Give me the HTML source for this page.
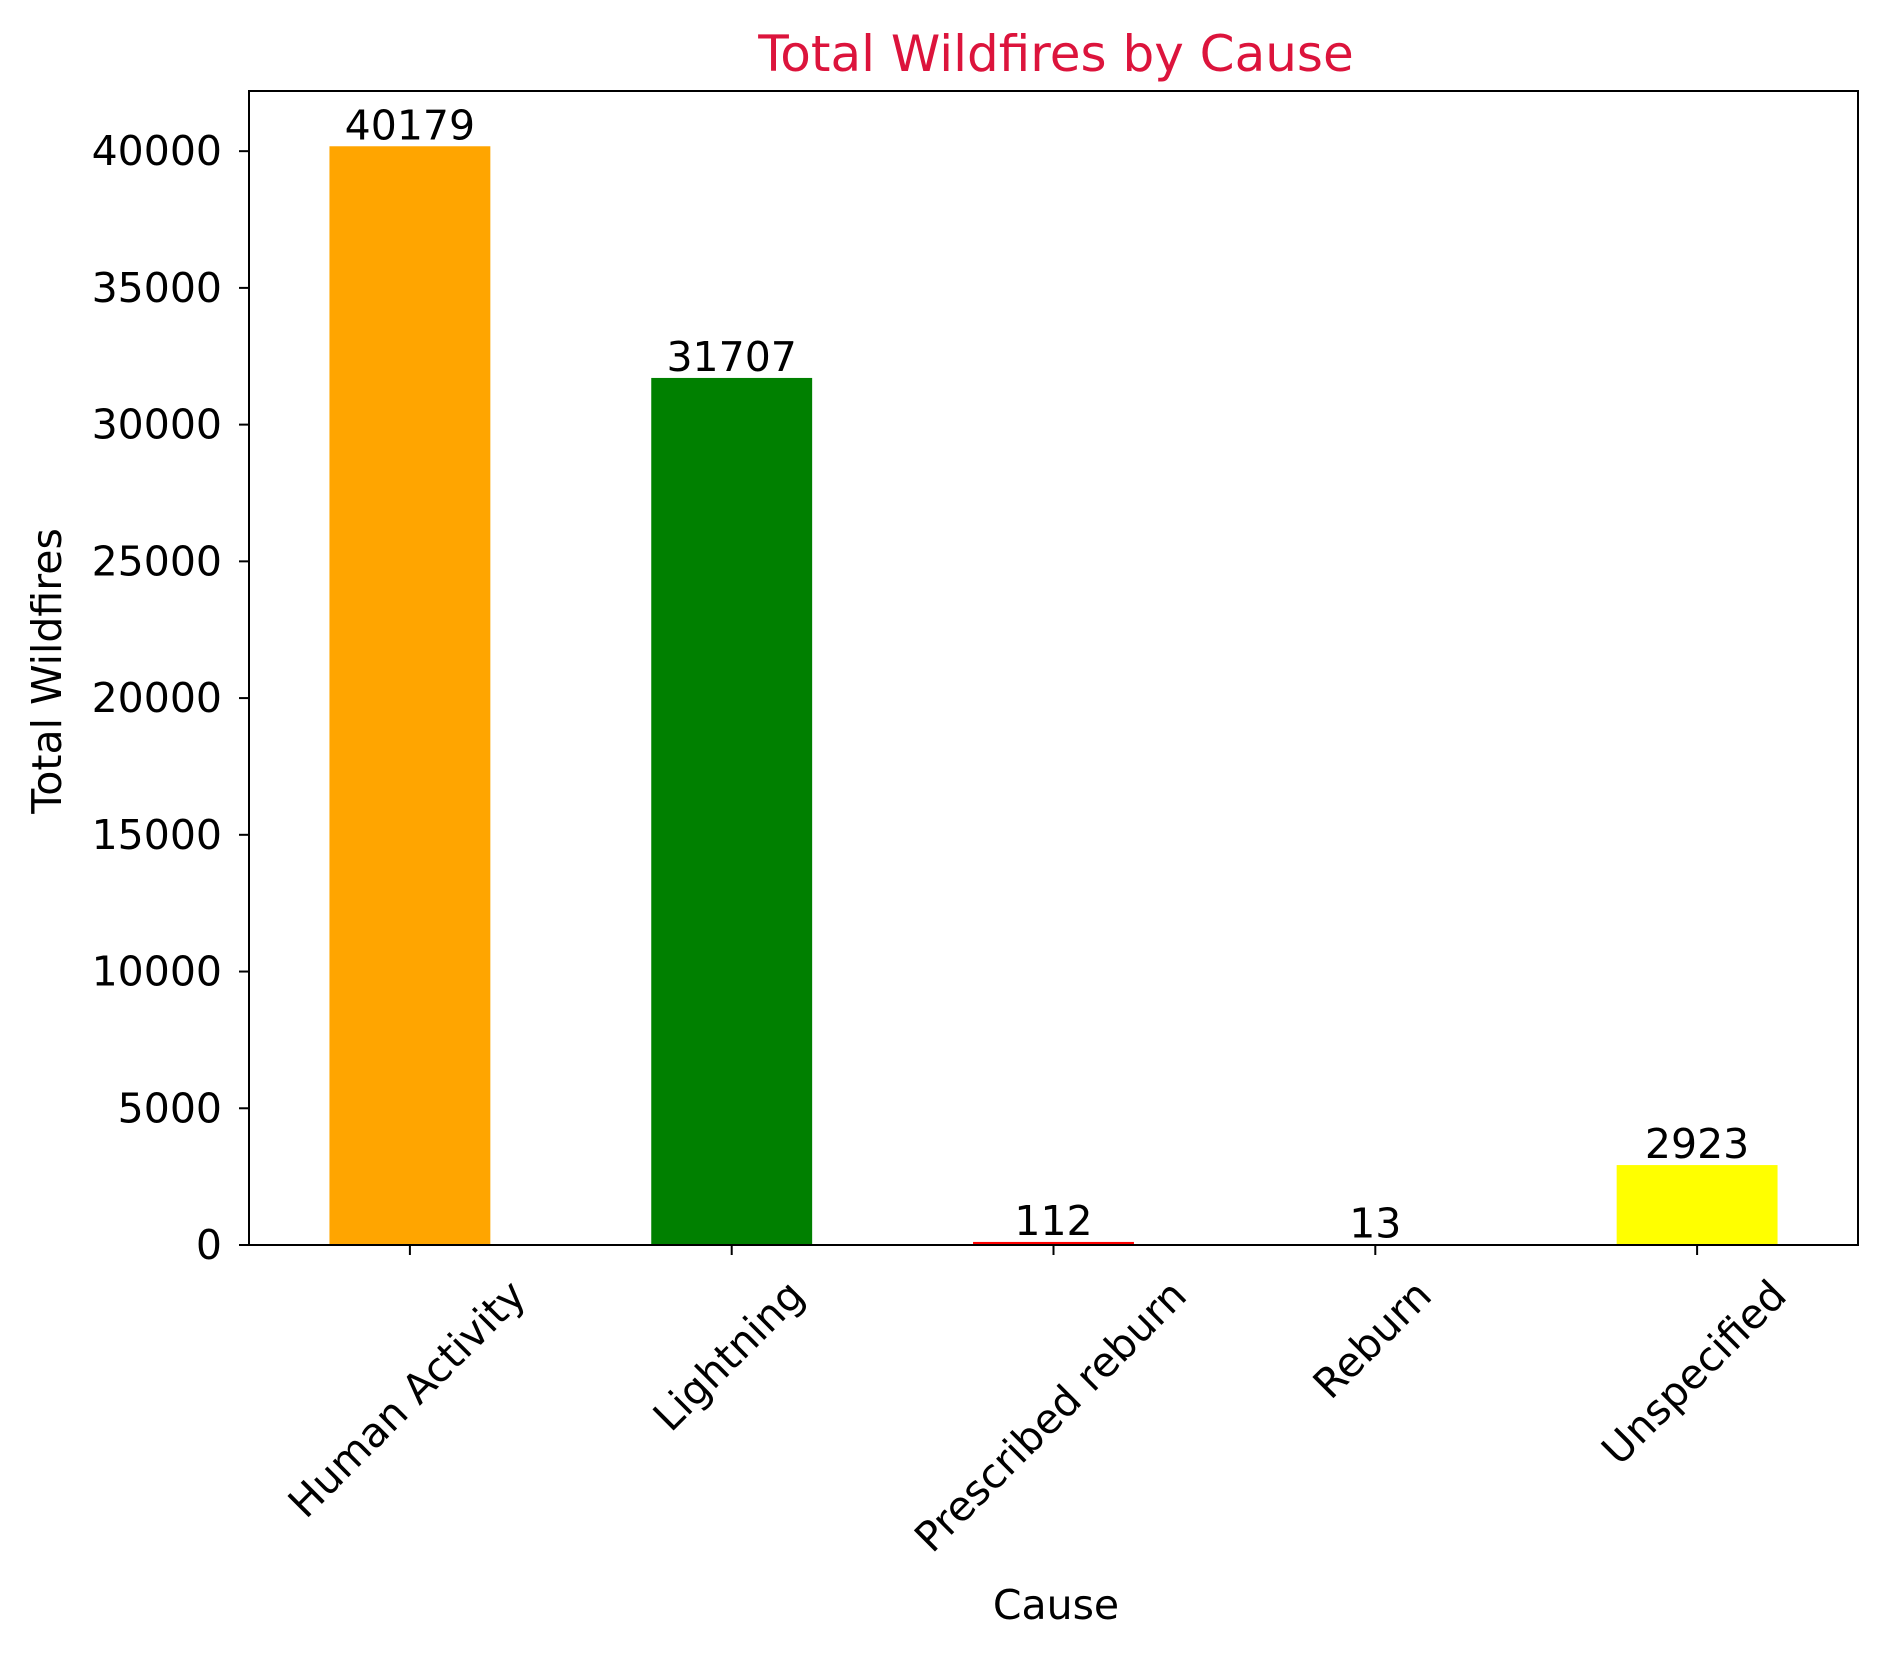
<!DOCTYPE html>
<html><head><meta charset="utf-8"><style>
body{margin:0;background:#fff;}
svg text{font-family:"DejaVu Sans","Liberation Sans",sans-serif;fill:#000;}
</style></head><body>
<svg id="chart" width="1887" height="1650" xmlns="http://www.w3.org/2000/svg">
<text x="1056" y="71" font-size="50" text-anchor="middle" style="fill:#dc143c">Total Wildfires by Cause</text>
<text transform="translate(61,671) rotate(-90)" font-size="41" text-anchor="middle">Total Wildfires</text>
<text x="1056" y="1619" font-size="41" text-anchor="middle">Cause</text>
<g id="bars"></g><g id="axes"></g>
<rect x="249" y="91" width="1609" height="1154" fill="none" stroke="#000" stroke-width="2"/>
</svg>
<script>
const categories=["Human Activity","Lightning","Prescribed reburn","Reburn","Unspecified"];
const values=[40179,31707,112,13,2923];
const colors=["orange","green","red","blue","yellow"];
const yTicks=[0,5000,10000,15000,20000,25000,30000,35000,40000];
const L=249,R=1858,T=91,B=1245,yMax=42200;
const ns="http://www.w3.org/2000/svg";
const xs=i=>L+(i+0.5)*(R-L)/categories.length;
const ys=v=>B-v/yMax*(B-T);
const bw=0.5*(R-L)/categories.length;
const bars=document.getElementById('bars'),axes=document.getElementById('axes');
function mk(tag,attrs,parent){const e=document.createElementNS(ns,tag);for(const k in attrs)e.setAttribute(k,attrs[k]);parent.appendChild(e);return e;}
values.forEach((v,i)=>{
 const r=mk('rect',{x:xs(i)-bw/2,y:ys(v),width:bw,height:B-ys(v),fill:colors[i]},bars);
 
 
 const t=mk('text',{x:xs(i),y:ys(v)-7,'font-size':41,'text-anchor':'middle'},bars);t.textContent=v;
 
 
 const tk=mk('line',{x1:xs(i),x2:xs(i),y1:B,y2:B+10,stroke:'#000','stroke-width':2},axes);
 
 
 const tl=mk('text',{x:0,y:0,'font-size':41,'text-anchor':'middle','dominant-baseline':'central'},axes);tl.textContent=categories[i];
 
 
 const w=tl.getComputedTextLength(),h=42;
 const cx=xs(i)-3,cy=B+10+18+(w+h)/(2*Math.SQRT2);
 tl.setAttribute('x',cx);tl.setAttribute('y',cy);
 tl.setAttribute('transform',`rotate(-45 ${cx} ${cy})`);
});
yTicks.forEach(v=>{
 const y=ys(v);
 const tk=mk('line',{x1:L-10,x2:L,y1:y,y2:y,stroke:'#000','stroke-width':2},axes);
 
 
 const t=mk('text',{x:L-27,y:y+14,'font-size':41,'text-anchor':'end'},axes);t.textContent=v;
 
 
});
</script>
</body></html>
